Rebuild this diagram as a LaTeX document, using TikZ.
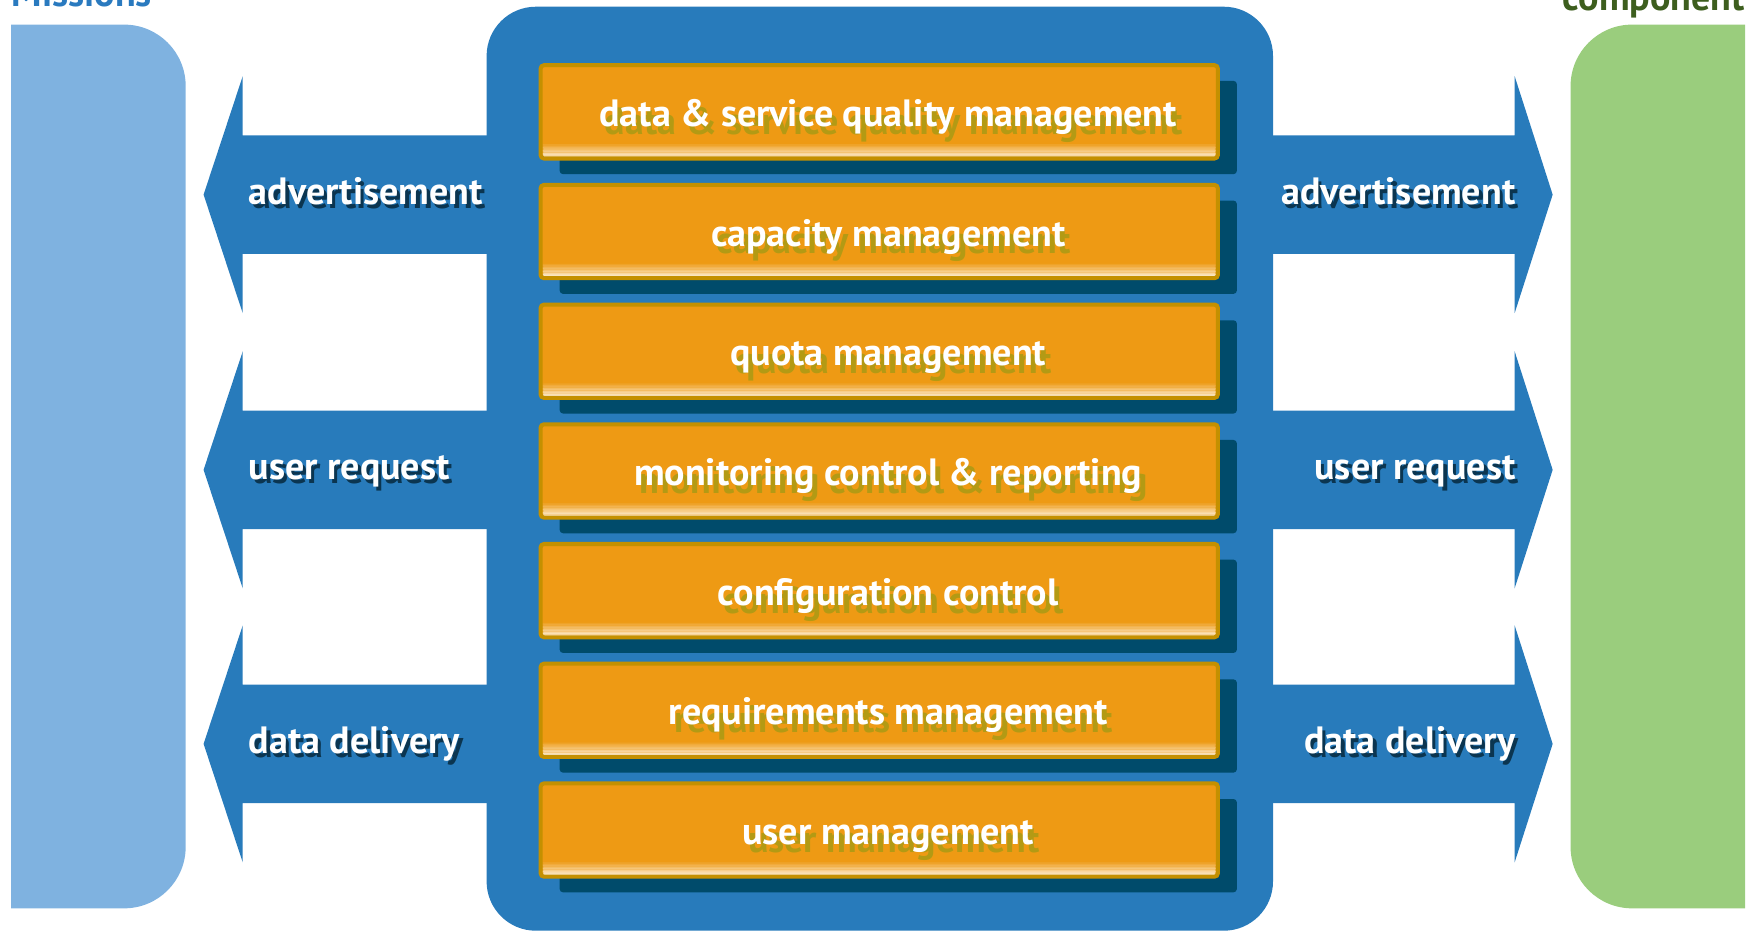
\documentclass[tikz,border=0pt]{standalone}
\usepackage{fontspec}
\setsansfont{PT Sans}
\usetikzlibrary{positioning, shadows}

\definecolor{coreblue}{RGB}{40,123,187}
\definecolor{missionblue}{RGB}{127,178,224}
\definecolor{missiontext}{RGB}{42,122,191}
\definecolor{compgreen}{RGB}{154,205,125}
\definecolor{comptext}{RGB}{61,94,30}
\definecolor{taskorange}{RGB}{238,154,20}
\definecolor{taskrim}{RGB}{196,144,0}
\definecolor{taskcream}{RGB}{253,241,220}
\definecolor{taskshade}{RGB}{0,75,107}
\definecolor{olivetext}{RGB}{179,154,20}
\definecolor{navytext}{RGB}{11,53,80}

\newcommand{\droptext}[4]{\makebox[0pt][l]{\hspace{#2}\raisebox{-#3}{\color{#1}#4}}#4}
\newcommand{\boxtext}[1]{\droptext{olivetext}{2.5pt}{3.5pt}{#1}}
\newcommand{\flowtext}[1]{\droptext{navytext}{1.5pt}{1.8pt}{#1}}

\tikzset{
  labelfont/.style={font=\sffamily\bfseries\fontsize{17}{20}\selectfont},
  taskbox/.style={rectangle, rounded corners=1.5pt, fill=taskorange, draw=taskrim, line width=1.8pt,
    minimum width=302.7pt, minimum height=41.7pt, labelfont, text=white, text height=15.5pt, text depth=2.5pt,
    drop shadow={shadow xshift=8.5pt, shadow yshift=-7pt, fill=taskshade, opacity=1},
    path picture={\foreach \k [evaluate=\k as \pct using int(10*\k)] in {0,...,10}
      \fill[taskorange!\pct!taskcream] ([yshift=\k*0.65pt]path picture bounding box.south west) rectangle ([yshift=\k*0.65pt+0.7pt]path picture bounding box.south east);},
    execute at begin node={\hspace*{8pt}}},
  flowlabel/.style={labelfont, text=white, inner sep=0pt}
}

\begin{document}
\begin{tikzpicture}[x=0.5pt, y=0.5pt]
\useasboundingbox (0,0) rectangle (1568,832);
\fill[missionblue] (10,20) -- (111,20) arc[start angle=-90, end angle=0, radius=55] -- (166,755) arc[start angle=0, end angle=90, radius=55] -- (10,810) -- cycle;
\fill[compgreen] (1560,20) -- (1459,20) arc[start angle=-90, end angle=-180, radius=55] -- (1404,755) arc[start angle=180, end angle=90, radius=55] -- (1560,810) -- cycle;
\node [labelfont, text=missiontext, anchor=base west, inner sep=0pt] (missions) at (10,826) {Missions};
\node [labelfont, text=comptext, anchor=base east, inner sep=0pt] (component) at (1560,823) {component};
\foreach \yc/\txt/\nm in {658/advertisement/ad, 412/user request/ur, 167/data delivery/dd} {
  \fill[coreblue] (182,\yc) -- (217,\yc+106) -- (217,\yc+53) -- (440,\yc+53) -- (440,\yc-53) -- (217,\yc-53) -- (217,\yc-106) -- cycle;
  \fill[coreblue] (1388,\yc) -- (1354,\yc+106) -- (1354,\yc+53) -- (1134,\yc+53) -- (1134,\yc-53) -- (1354,\yc-53) -- (1354,\yc-106) -- cycle;
  \node [flowlabel, anchor=base west] (\nm-left) at (222,\yc-9) {\flowtext{\txt}};
  \node [flowlabel, anchor=base east] (\nm-right) at (1355,\yc-9) {\flowtext{\txt}};
}
\node [rectangle, rounded corners=22pt, fill=coreblue, minimum width=351.5pt, minimum height=413pt] (core) at (786.5,413) {};
\node [taskbox] (quality) at (786,732) {\boxtext{data \& service quality management}};
\node [taskbox, below=10pt of quality] (capacity) {\boxtext{capacity management}};
\node [taskbox, below=10pt of capacity] (quota) {\boxtext{quota management}};
\node [taskbox, below=10pt of quota] (monitoring) {\boxtext{monitoring control \& reporting}};
\node [taskbox, below=10pt of monitoring] (config) {\boxtext{configuration control}};
\node [taskbox, below=10pt of config] (requirements) {\boxtext{requirements management}};
\node [taskbox, below=10pt of requirements] (users) {\boxtext{user management}};
\end{tikzpicture}
\end{document}
